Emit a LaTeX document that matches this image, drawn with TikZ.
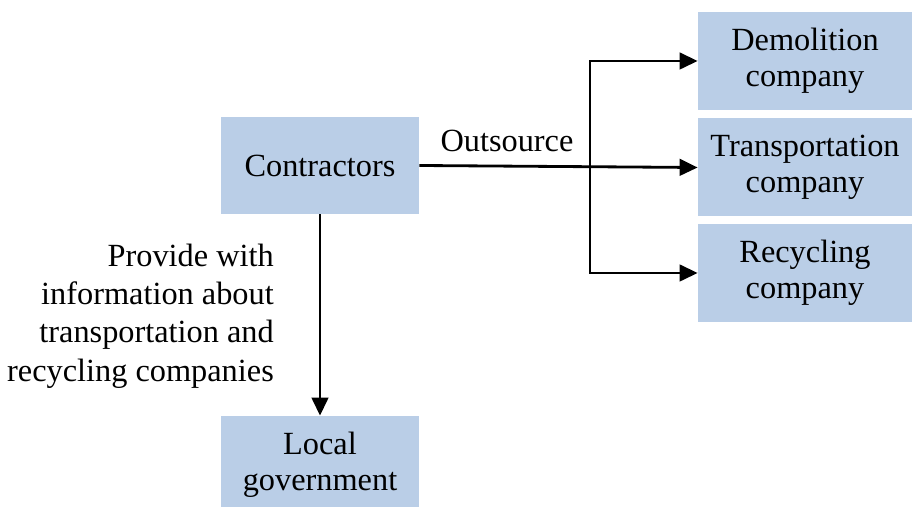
\documentclass[tikz,border=0pt]{standalone}
\usepackage{fontspec}
\setmainfont{Liberation Serif}
\usepackage{xcolor}
\usepackage{tikz}
\usetikzlibrary{arrows.meta, positioning, calc}
\definecolor{boxblue}{HTML}{BACEE7}

\begin{document}
\begin{tikzpicture}[font=\fontsize{18.4}{20.6}\selectfont, >={Triangle[length=3.6mm, width=3.3mm]},
  box/.style={fill=boxblue, minimum width=3.96cm, minimum height=1.94cm, align=center, inner sep=0pt},
  sidebox/.style={box, minimum width=4.28cm, minimum height=1.96cm},
  conn/.style={line width=1.6pt, ->}]
  \useasboundingbox (0,0) rectangle (18.26,10.14);
  \node[box] (contr) at (6.4,6.83) {Contractors};
  \node[box, minimum height=1.96cm] (gov) at (6.4,0.84) {Local\\government};
  \node[sidebox] (demo) at (16.1,8.92) {Demolition\\company};
  \node[sidebox] (trans) at (16.1,6.79) {Transportation\\company};
  \node[sidebox] (recyc) at (16.1,4.68) {Recycling\\company};
  \coordinate (split) at (11.8,6.81);
  \draw[conn] (contr.east) -- (trans.west);
  \draw[conn] (split) |- (demo.west);
  \draw[conn] (split) |- (recyc.west);
  \node (outs) at (10.14,7.32) {Outsource};
  \draw[conn] (contr.south) -- (gov.north);
  \node[anchor=east, align=right, font=\fontsize{18.4}{21.8}\selectfont] (info) at (5.6,3.82) {Provide with\\information about\\transportation and\\recycling companies};
\end{tikzpicture}
\end{document}
